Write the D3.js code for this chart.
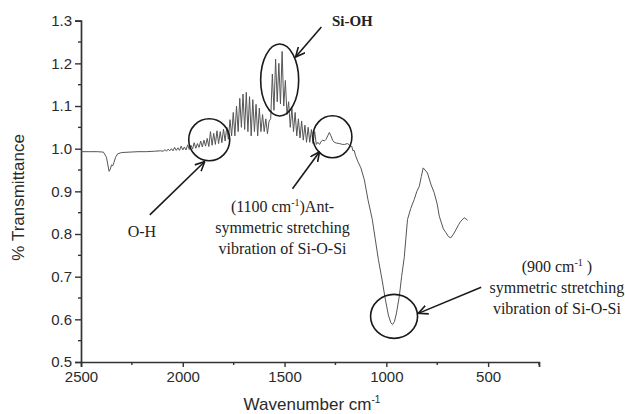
<!DOCTYPE html>
<html>
<head>
<meta charset="utf-8">
<script src="https://cdn.jsdelivr.net/npm/d3@7"></script>
<style>
  html, body { margin: 0; padding: 0; background: #fff; }
  svg { display: block; }
</style>
</head>
<body>
<div id="chart"></div>
<script>
// ---- data ----
const wavenumber = [
  2500, 2460, 2420, 2390, 2375, 2368, 2362, 2356, 2350, 2344, 2338, 2330, 2320, 2300, 2260, 2220, 2180, 2140, 2110, 2095,
  2088, 2080, 2072, 2064, 2056, 2048, 2040, 2032, 2024, 2016, 2008, 2000, 1992, 1984, 1976, 1968, 1960, 1952, 1944, 1936,
  1928, 1920, 1912, 1904, 1896, 1888, 1880, 1872, 1864, 1856, 1848, 1840, 1832, 1824, 1816, 1808, 1800, 1792, 1784, 1776,
  1768, 1760, 1752, 1744, 1736, 1728, 1720, 1712, 1704, 1696, 1688, 1680, 1672, 1664, 1656, 1648, 1640, 1632, 1624, 1616,
  1608, 1600, 1592, 1584, 1576, 1568, 1560, 1552, 1544, 1536, 1528, 1520, 1512, 1504, 1496, 1488, 1480, 1472, 1464, 1456,
  1448, 1440, 1432, 1424, 1416, 1408, 1400, 1392, 1384, 1376, 1368, 1360, 1352, 1344,
  1336, 1328, 1320, 1312, 1304, 1296, 1288, 1280, 1272, 1264, 1256, 1244, 1230, 1216, 1204, 1192, 1184, 1176, 1170, 1164,
  1158, 1152, 1140, 1125, 1108, 1090, 1069, 1055, 1039, 1020, 1005, 990, 978, 969, 960, 950, 936, 925, 912, 904,
  896, 880, 863, 850, 838, 828, 819, 810, 798, 780, 765, 750, 740, 720, 707, 695, 683, 670, 658, 645,
  634, 618, 610, 601
];
const transmittance = [
  0.993, 0.993, 0.993, 0.992, 0.980, 0.962, 0.947, 0.952, 0.962, 0.960, 0.968, 0.980, 0.988, 0.991, 0.992, 0.993, 0.993, 0.994, 0.995, 0.994,
  0.998, 0.994, 0.999, 0.995, 1.000, 0.995, 1.003, 0.996, 1.002, 0.996, 1.006, 0.997, 1.004, 0.997, 1.009, 0.998, 1.008, 0.999, 1.014, 1.001,
  1.012, 1.003, 1.018, 1.004, 1.020, 1.006, 1.024, 1.005, 1.040, 1.008, 1.036, 1.010, 1.042, 1.012, 1.040, 1.014, 1.046, 1.018, 1.050, 1.022,
  1.068, 1.030, 1.085, 1.030, 1.100, 1.040, 1.118, 1.050, 1.128, 1.045, 1.132, 1.040, 1.122, 1.030, 1.115, 1.040, 1.104, 1.030, 1.095, 1.040,
  1.080, 1.040, 1.070, 1.035, 1.065, 1.070, 1.175, 1.090, 1.210, 1.110, 1.200, 1.105, 1.228, 1.100, 1.160, 1.080, 1.110, 1.050, 1.095, 1.040,
  1.085, 1.030, 1.070, 1.025, 1.065, 1.020, 1.055, 1.015, 1.050, 1.015, 1.045, 1.012, 1.040, 1.010,
  1.015, 1.010, 1.017, 1.020, 1.018, 1.022, 1.030, 1.038, 1.030, 1.020, 1.015, 1.013, 1.012, 1.010, 1.010, 1.012, 1.010, 1.004, 1.006, 0.995,
  0.996, 0.985, 0.970, 0.955, 0.927, 0.880, 0.834, 0.790, 0.740, 0.690, 0.647, 0.610, 0.592, 0.588, 0.595, 0.615, 0.655, 0.700, 0.745, 0.790,
  0.834, 0.860, 0.881, 0.900, 0.912, 0.935, 0.955, 0.950, 0.943, 0.915, 0.897, 0.870, 0.842, 0.812, 0.803, 0.794, 0.791, 0.800, 0.810, 0.822,
  0.830, 0.838, 0.836, 0.832
];
const xTickValues = [2500, 2000, 1500, 1000, 500];
const xMinorTicks = [2250, 1750, 1250, 750, 250];
const yTickValues = [0.5, 0.6, 0.7, 0.8, 0.9, 1.0, 1.1, 1.2, 1.3];
const yMinorTicks = [0.55, 0.65, 0.75, 0.85, 0.95, 1.05, 1.15, 1.25];

// annotation circles: [wavenumber, transmittance]
const circleCenters = [[1870, 1.021], [1524, 1.161], [1265, 1.028], [962, 0.607]];
// arrows: from [w, t] to [w, t]
const arrowFrom = [[2162, 0.845], [1319, 1.285], [1461, 0.906], [534, 0.675]];
const arrowTo   = [[1892, 0.970], [1446, 1.215], [1328, 0.993], [843, 0.614]];
const annotationText = [
  { at: [1167, 1.288], lines: [["Si-OH"]], bold: true },
  { at: [2201, 0.792], lines: [["O-H"]] },
  { at: [1510, 0.852], lines: [["(1100 cm", "-1", ")Ant-"], ["symmetric stretching"], ["vibration of Si-O-Si"]] },
  { at: [162, 0.710], lines: [["(900 cm", "-1", " )"], ["symmetric stretching"], ["vibration of Si-O-Si"]] }
];

// ---- drawing ----
const W = 625, H = 414;
const svg = d3.select("#chart").append("svg").attr("width", W).attr("height", H);

const x = d3.scaleLinear().domain([2500, 250]).range([81, 539]);
const y = d3.scaleLinear().domain([0.5, 1.3]).range([362, 20.7]);

const axisColor = "#333";

// x axis
const gx = svg.append("g").attr("transform", `translate(0,${y(0.5)})`)
  .call(d3.axisBottom(x).tickValues(xTickValues).tickFormat(d3.format("d")).tickSize(5).tickPadding(4));
gx.append("g").selectAll("line").data(xMinorTicks).join("line")
  .attr("x1", d => x(d)).attr("x2", d => x(d)).attr("y1", 0).attr("y2", 3);

// y axis
const gy = svg.append("g").attr("transform", `translate(${x(2500)},0)`)
  .call(d3.axisLeft(y).tickValues(yTickValues).tickFormat(d3.format(".1f")).tickSize(6).tickPadding(3));
gy.append("g").selectAll("line").data(yMinorTicks).join("line")
  .attr("y1", d => y(d)).attr("y2", d => y(d)).attr("x1", 0).attr("x2", -3);

[gx, gy].forEach(g => {
  g.select(".domain").attr("stroke", axisColor).attr("stroke-width", 1.7);
  g.selectAll("line").attr("stroke", axisColor).attr("stroke-width", 1.4);
  g.selectAll("text").attr("fill", "#2a2a2a").style("font-family", "Liberation Sans, Arial, sans-serif").style("font-size", "15px");
});

// axis titles
svg.append("text")
  .attr("transform", `translate(24,${(y(1.3) + y(0.5)) / 2 + 6}) rotate(-90)`)
  .attr("text-anchor", "middle")
  .style("font-family", "Liberation Sans, Arial, sans-serif").style("font-size", "17px").attr("fill", "#2a2a2a")
  .text("% Transmittance");

const xt = svg.append("text")
  .attr("x", 312).attr("y", 410)
  .attr("text-anchor", "middle")
  .style("font-family", "Liberation Sans, Arial, sans-serif").style("font-size", "17px").attr("fill", "#2a2a2a");
xt.append("tspan").text("Wavenumber cm");
xt.append("tspan").attr("dy", -7).style("font-size", "10px").text("-1");

// spectrum line
const line = d3.line().x((d, i) => x(wavenumber[i])).y(d => y(d)).curve(d3.curveLinear);
svg.append("path").datum(transmittance)
  .attr("d", line).attr("fill", "none").attr("stroke", "#555").attr("stroke-width", 1);

// circles (radii in px)
const radii = [[20.5, 21], [19, 36], [19.5, 21], [23.5, 22]];
svg.append("g").selectAll("ellipse").data(circleCenters).join("ellipse")
  .attr("cx", d => x(d[0])).attr("cy", d => y(d[1]))
  .attr("rx", (d, i) => radii[i][0]).attr("ry", (d, i) => radii[i][1])
  .attr("fill", "none").attr("stroke", "#1a1a1a").attr("stroke-width", 1.6);

// arrows
svg.append("defs").append("marker")
  .attr("id", "arr").attr("viewBox", "0 0 10 10").attr("refX", 9.5).attr("refY", 5)
  .attr("markerWidth", 10).attr("markerHeight", 10).attr("markerUnits", "userSpaceOnUse").attr("orient", "auto")
  .append("path").attr("d", "M0,0.5 L9.5,5 L0,9.5").attr("fill", "none").attr("stroke", "#1a1a1a").attr("stroke-width", 1.6);

svg.append("g").selectAll("line").data(arrowFrom).join("line")
  .attr("x1", d => x(d[0])).attr("y1", d => y(d[1]))
  .attr("x2", (d, i) => x(arrowTo[i][0])).attr("y2", (d, i) => y(arrowTo[i][1]))
  .attr("stroke", "#1a1a1a").attr("stroke-width", 1.6).attr("marker-end", "url(#arr)");

// annotation text
annotationText.forEach(a => {
  a.lines.forEach((parts, li) => {
    const t = svg.append("text")
      .attr("x", x(a.at[0])).attr("y", y(a.at[1]) + li * 21)
      .attr("text-anchor", "middle")
      .style("font-family", "Liberation Serif, Times New Roman, serif")
      .style("font-size", a.bold ? "15px" : "16px")
      .style("font-weight", a.bold ? "bold" : "normal")
      .attr("fill", "#222");
    if (parts.length === 1) {
      t.text(parts[0]);
    } else {
      t.append("tspan").text(parts[0]);
      t.append("tspan").attr("dy", -6).style("font-size", "10px").text(parts[1]);
      t.append("tspan").attr("dy", 6).text(parts[2]);
    }
  });
});
</script>
</body>
</html>
